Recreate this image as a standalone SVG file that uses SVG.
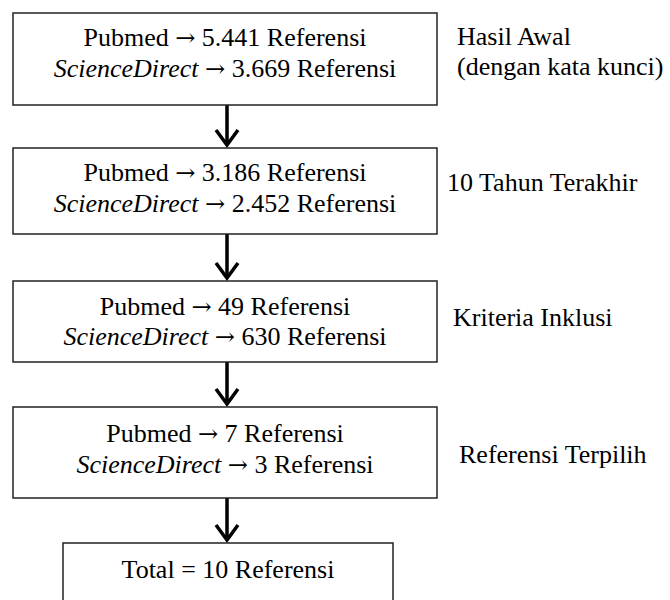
<svg xmlns="http://www.w3.org/2000/svg" width="670" height="600" viewBox="0 0 670 600">
<style>
.box{fill:#fff;stroke:#222;stroke-width:1.5}
text{font-family:"Liberation Serif","Times New Roman",serif;font-size:26px;fill:#000}
.c{text-anchor:middle}
.i{font-style:italic}
.a{font-family:"DejaVu Serif",serif;font-size:24px}
.arr{stroke:#000;stroke-width:3.5;fill:none}
</style>
<defs>
<marker id="v" markerWidth="30" markerHeight="30" refX="0" refY="0" orient="auto" markerUnits="userSpaceOnUse" viewBox="-20 -15 30 30" overflow="visible">
<path d="M-15,-11 L0,0 L-15,11" fill="none" stroke="#000" stroke-width="3.5" stroke-linejoin="miter"/>
</marker>
</defs>
<rect width="670" height="600" fill="#fff"/>
<g id="connectors">
<path class="arr" d="M227,105 V145" marker-end="url(#v)"/>
<path class="arr" d="M227,234 V278" marker-end="url(#v)"/>
<path class="arr" d="M227,362 V404" marker-end="url(#v)"/>
<path class="arr" d="M227,498 V540" marker-end="url(#v)"/>
</g>
<g id="n1">
<rect class="box" x="13" y="13" width="424" height="92"/>
<text class="c" x="225" y="46">Pubmed <tspan class="a">→</tspan> 5.441 Referensi</text>
<text class="c" x="225" y="77"><tspan class="i">ScienceDirect</tspan> <tspan class="a">→</tspan> 3.669 Referensi</text>
</g>
<g id="l1">
<text x="457" y="45">Hasil Awal</text>
<text x="457" y="75">(dengan kata kunci)</text>
</g>
<g id="n2">
<rect class="box" x="13" y="148" width="424" height="86"/>
<text class="c" x="225" y="181">Pubmed <tspan class="a">→</tspan> 3.186 Referensi</text>
<text class="c" x="225" y="212"><tspan class="i">ScienceDirect</tspan> <tspan class="a">→</tspan> 2.452 Referensi</text>
</g>
<g id="l2"><text x="447" y="191">10 Tahun Terakhir</text></g>
<g id="n3">
<rect class="box" x="13" y="281" width="424" height="81"/>
<text class="c" x="225" y="315">Pubmed <tspan class="a">→</tspan> 49 Referensi</text>
<text class="c" x="225" y="345"><tspan class="i">ScienceDirect</tspan> <tspan class="a">→</tspan> 630 Referensi</text>
</g>
<g id="l3"><text x="453" y="326">Kriteria Inklusi</text></g>
<g id="n4">
<rect class="box" x="13" y="407" width="424" height="91"/>
<text class="c" x="225" y="442">Pubmed <tspan class="a">→</tspan> 7 Referensi</text>
<text class="c" x="225" y="473"><tspan class="i">ScienceDirect</tspan> <tspan class="a">→</tspan> 3 Referensi</text>
</g>
<g id="l4"><text x="459" y="463">Referensi Terpilih</text></g>
<g id="n5">
<rect class="box" x="63" y="543" width="330" height="70"/>
<text class="c" x="228" y="578">Total = 10 Referensi</text>
</g>
</svg>
